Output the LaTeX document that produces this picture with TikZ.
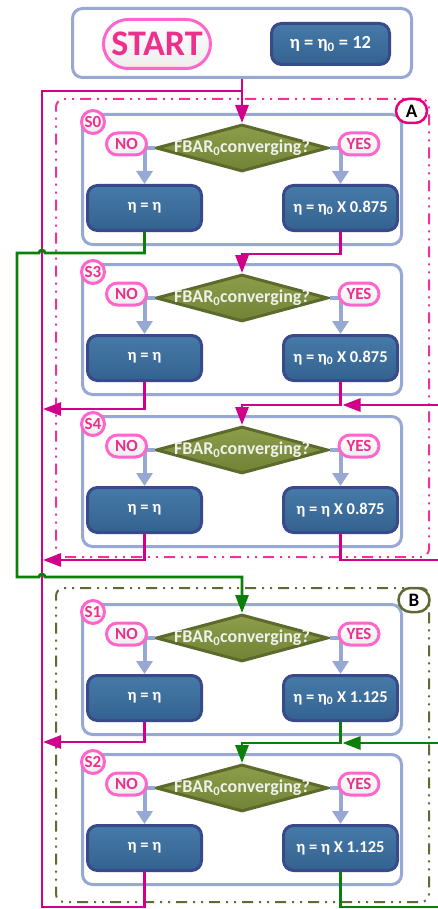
\documentclass[tikz,border=0pt]{standalone}
\usepackage{fontspec}
\setmainfont{Carlito}
\usetikzlibrary{arrows.meta,shapes.geometric,shapes.misc}
\definecolor{stagec}{RGB}{152,168,212}
\definecolor{magc}{RGB}{208,0,140}
\definecolor{grnc}{RGB}{10,128,10}
\definecolor{pinkb}{RGB}{255,102,204}
\definecolor{pinkt}{RGB}{236,48,140}
\definecolor{boxb}{RGB}{56,74,138}
\definecolor{boxt}{RGB}{70,122,168}
\definecolor{boxbot}{RGB}{52,98,144}
\definecolor{diab}{RGB}{92,106,44}
\definecolor{diat}{RGB}{140,158,74}
\definecolor{diabot}{RGB}{114,130,54}
\definecolor{regAc}{RGB}{240,50,150}
\definecolor{regBc}{RGB}{95,107,53}
\definecolor{labAc}{RGB}{230,0,126}
\definecolor{diatxt}{RGB}{240,240,236}
\tikzset{
  stagebox/.style={draw=stagec, line width=3pt, rounded corners=10pt, minimum width=319pt, minimum height=130pt, inner sep=0pt},
  bluebox/.style={draw=boxb, line width=3pt, rounded corners=10pt, top color=boxt, bottom color=boxbot,
    minimum width=114pt, minimum height=45pt, inner sep=0pt, text=white, font=\fontsize{16.5}{18}\selectfont\bfseries},
  dia/.style={diamond, draw=diab, line width=3pt, top color=diat, bottom color=diabot,
    minimum width=172pt, minimum height=47pt, inner sep=0pt},
  diatext/.style={text=diatxt, font=\fontsize{18}{20}\selectfont\bfseries},
  pill/.style={rounded rectangle, draw=pinkb, line width=3pt, top color=white, bottom color=gray!14,
    minimum width=40pt, minimum height=22pt, inner sep=0pt, text=pinkt, font=\fontsize{17}{18}\selectfont\bfseries},
  slabel/.style={circle, draw=pinkb, line width=3pt, top color=white, bottom color=gray!14,
    minimum size=23pt, inner sep=0pt, text=pinkt, font=\fontsize{17}{18}\selectfont\bfseries},
  labpill/.style={rounded rectangle, line width=2.5pt, fill=white, minimum width=31pt, minimum height=24pt,
    inner sep=0pt, text=black, font=\fontsize{19}{20}\selectfont\bfseries},
  region/.style={line width=2pt, rounded corners=8pt, inner sep=0pt,
    dash pattern=on 11pt off 6pt on 2pt off 6pt on 2pt off 6pt},
  bluearrow/.style={draw=stagec, line width=4pt, -{Triangle[length=13pt,width=16pt]}},
  magline/.style={draw=magc, line width=2.8pt},
  magarrow/.style={magline, -{Triangle[length=18pt,width=13pt]}},
  grnline/.style={draw=grnc, line width=2.8pt},
  grnarrow/.style={grnline, -{Triangle[length=18pt,width=13pt]}},
}
\newcommand\mkstage[4]{%
  \node[stagebox] (#1box) at (242,#2+66.5) {};
  \node[slabel] (#1lab) at (93,#2+9) {#3};
  \node[dia, label={[diatext]center:FBAR\textsubscript{0}converging?}] (#1d) at (242,#2+35) {};
  \node[bluebox] (#1nb) at (144.5,#2+95) {η = η};
  \node[bluebox] (#1yb) at (340.5,#2+95) {#4};
  \draw[bluearrow] (#1d.west) -| (#1nb.north);
  \draw[bluearrow] (#1d.east) -| (#1yb.north);
  \node[pill] (#1no) at (126.5,#2+31) {NO};
  \node[pill] (#1yes) at (359,#2+31) {YES};
}
\begin{document}
\begin{tikzpicture}[x=1pt,y=-1pt]
\useasboundingbox[fill=white] (0,0) rectangle (438,909);
% regions
\node[region, draw=regAc, minimum width=373pt, minimum height=458pt] (regionA) at (242.5,328) {};
\node[region, draw=regBc, minimum width=373pt, minimum height=314pt] (regionB) at (242.5,745) {};
% top box
\node[stagebox, minimum width=339pt, minimum height=69pt] (topbox) at (242,43) {};
\node[rounded rectangle, draw=pinkb, line width=3pt, top color=white, bottom color=gray!14,
  minimum width=107pt, minimum height=49pt, inner sep=0pt, text=pinkt,
  font=\fontsize{36}{38}\selectfont\bfseries] (start) at (157,44) {START};
\node[bluebox, minimum width=118pt, minimum height=41pt, font=\fontsize{18.5}{20}\selectfont\bfseries] (eta0) at (330.5,44) {η = η\textsubscript{0} = 12};
% stages
\mkstage{s0}{113}{S0}{η = η\textsubscript{0} X 0.875}
\mkstage{s3}{263}{S3}{η = η\textsubscript{0} X 0.875}
\mkstage{s4}{415}{S4}{η = η X 0.875}
\mkstage{s1}{603}{S1}{η = η\textsubscript{0} X 1.125}
\mkstage{s2}{753}{S2}{η = η X 1.125}
% region labels
\node[labpill, draw=labAc] (labA) at (411.5,111) {A};
\node[labpill, draw=regBc] (labB) at (414,600) {B};
% coordinates
\coordinate (busTop) at (42,91);
\coordinate (busBot) at (42,907);
\coordinate (b3) at (43,409);
\coordinate (b4) at (43,560);
\coordinate (b1) at (43,742);
\coordinate (r3) at (438,405);
\coordinate (r4) at (438,560);
\coordinate (r1) at (438,743);
\coordinate (r2) at (438,907);
% magenta connectors
\draw[magline] (s2nb.south) |- (busBot) -- (busTop) -- (topbox.south |- busTop);
\draw[magarrow] (topbox.south) -- (s0d.north);
\draw[magarrow] (s0yb.south) -- (s0yb.south |- 0,254) -| (s3d.north);
\draw[magarrow] (s3nb.south) |- (b3);
\draw[magarrow] (s3yb.south) -- (s3yb.south |- r3) -| (s4d.north);
\draw[magarrow] (r3) -- ([xshift=2pt]s3yb.south |- r3);
\draw[magarrow] (s4nb.south) |- (b4);
\draw[magline] (s4yb.south) |- (r4);
\draw[magarrow] (s1nb.south) |- (b1);
% green connectors
\draw[grnarrow] (s0nb.south) -- (s0nb.south |- 0,253) -- (45,253) arc[start angle=0,end angle=-180,radius=3]
  -- (17,253) -- (17,577) -- (39,577) arc[start angle=180,end angle=360,radius=3]
  -- (s1d.north |- 0,577) -- (s1d.north);
\draw[grnarrow] (s1yb.south) -- (s1yb.south |- r1) -| (s2d.north);
\draw[grnarrow] (r1) -- ([xshift=2pt]s1yb.south |- r1);
\draw[grnline] (s2yb.south) |- (r2);
\end{tikzpicture}
\end{document}
